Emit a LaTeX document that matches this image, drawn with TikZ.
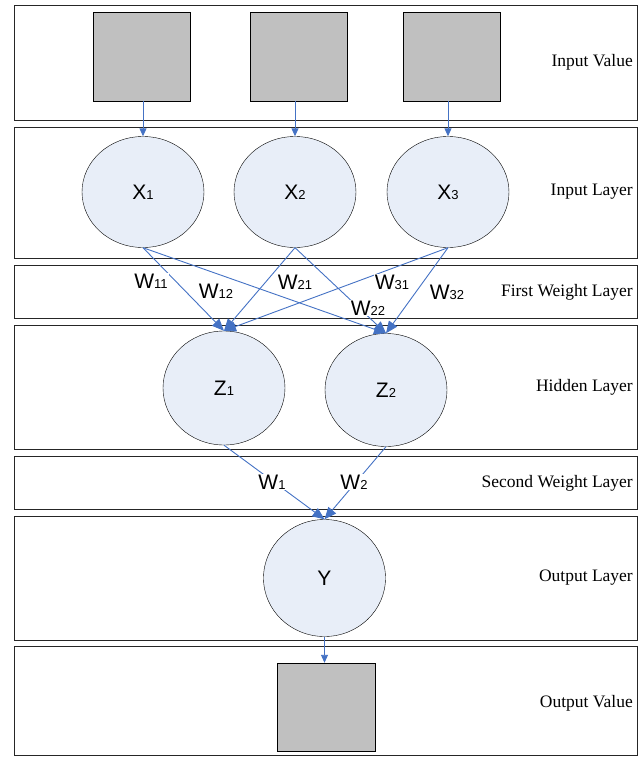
\documentclass[tikz,border=0pt]{standalone}
\usepackage{fontspec}
\setmainfont{Liberation Serif}
\newfontfamily\arialfont{Liberation Sans}
\usetikzlibrary{shapes.geometric,arrows.meta}

\definecolor{linkblue}{RGB}{68,114,196}
\definecolor{cellfill}{RGB}{232,238,248}
\definecolor{valfill}{RGB}{192,192,192}
\newcommand{\unitname}[2]{{\arialfont\fontsize{21}{21}\selectfont #1\fontsize{13}{13}\selectfont #2}}

\tikzset{
  layerbox/.style={draw=black!85, line width=0.8pt},
  valuebox/.style={draw, fill=valfill, minimum width=97pt, minimum height=89pt, inner sep=0pt},
  unitnode/.style={ellipse, draw, fill=cellfill, minimum width=122pt, inner sep=0pt},
  layername/.style={anchor=east, inner sep=0pt, font=\fontsize{17.5}{17.5}\selectfont},
  feed/.style={draw=linkblue, line width=0.9pt, -{Triangle[length=8pt,width=7pt]}},
  weight/.style={draw=linkblue, line width=0.9pt, -{Triangle[length=12pt,width=10pt]}},
  wlabel/.style={fill=white, inner sep=1pt},
}

\begin{document}
\begin{tikzpicture}[x=1pt,y=-1pt]
    \useasboundingbox (0,0) rectangle (643,758);
    % layer frames
    \draw[layerbox](14,5) rectangle (637,120);
    \draw[layerbox](14,127) rectangle (637,258);
    \draw[layerbox](14,265) rectangle (637,318);
    \draw[layerbox](14,325) rectangle (637,449);
    \draw[layerbox](14,456) rectangle (637,509);
    \draw[layerbox](14,516) rectangle (637,640);
    \draw[layerbox](14,646) rectangle (637,755);

    \node[layername] (lvin) at (633,62) {Input Value};
    \node[layername] (lin) at (633,192) {Input Layer};
    \node[layername] (lw1) at (633,292) {First Weight Layer};
    \node[layername] (lhid) at (633,387) {Hidden Layer};
    \node[layername] (lw2) at (633,483) {Second Weight Layer};
    \node[layername] (lout) at (633,578) {Output Layer};
    \node[layername] (lvout) at (633,703) {Output Value};

    % values and units
    \node[valuebox] (v1) at (141.5,56.5) {};
    \node[valuebox] (v2) at (298.5,56.5) {};
    \node[valuebox] (v3) at (451.5,56.5) {};
    \node[unitnode, minimum height=111pt] (x1) at (143,192) {\unitname{X}{1}};
    \node[unitnode, minimum height=111pt] (x2) at (295,192) {\unitname{X}{2}};
    \node[unitnode, minimum height=111pt] (x3) at (448,192) {\unitname{X}{3}};
    \node[unitnode, minimum height=114pt] (z1) at (224,388) {\unitname{Z}{1}};
    \node[unitnode, minimum height=113pt] (z2) at (386,390) {\unitname{Z}{2}};
    \node[unitnode, minimum height=117pt] (y) at (324.5,578) {\unitname{Y}{}};
    \node[valuebox, minimum width=98pt, minimum height=88pt] (vout) at (326,707) {};

    \draw[feed](x1.north |- v1.south)--(x1.north);
    \draw[feed](x2.north |- v2.south)--(x2.north);
    \draw[feed](x3.north |- v3.south)--(x3.north);
    \draw[weight](x1.south)--(z1.north);
    \draw[weight](x1.south)--(z2.north);
    \draw[weight](x2.south)--(z1.north);
    \draw[weight](x2.south)--(z2.north);
    \draw[weight](x3.south)--(z1.north);
    \draw[weight](x3.south)--(z2.north);
    \draw[weight](z1.south)--(y.north);
    \draw[weight](z2.south)--(y.north);
    \draw[feed](y.south)--(y.south |- vout.north);

    % weights
    \node[wlabel] (w11) at (151,281) {\unitname{W}{11}};
    \node[wlabel] (w12) at (216,291) {\unitname{W}{12}};
    \node[wlabel] (w21) at (295,282) {\unitname{W}{21}};
    \node[wlabel] (w22) at (368,308) {\unitname{W}{22}};
    \node[wlabel] (w31) at (392,282) {\unitname{W}{31}};
    \node[wlabel] (w32) at (447,292) {\unitname{W}{32}};
    \node[wlabel] (w1) at (272,482) {\unitname{W}{1}};
    \node[wlabel] (w2) at (354,482) {\unitname{W}{2}};
\end{tikzpicture}
\end{document}
